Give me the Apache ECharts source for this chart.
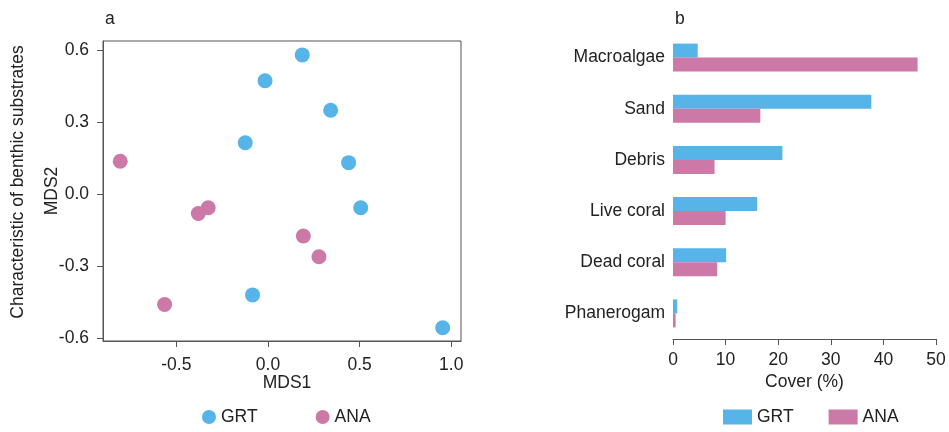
<!DOCTYPE html>
<html>
<head>
<meta charset="utf-8">
<script src="https://cdn.jsdelivr.net/npm/echarts@6/dist/echarts.min.js"></script>
<style>
html,body{margin:0;padding:0;background:#fff;}
#main{width:949px;height:432px;}
</style>
</head>
<body>
<div id="main"></div>
<script>
// panel a : MDS ordination
var grtMds = [
	[0.187, 0.582], [-0.016, 0.474], [0.342, 0.351], [-0.124, 0.215],
	[0.44, 0.132], [0.506, -0.056], [-0.084, -0.42], [0.953, -0.557]
];
var anaMds = [
	[-0.806, 0.138], [-0.38, -0.08], [-0.326, -0.056], [0.193, -0.174],
	[0.278, -0.261], [-0.564, -0.46]
];
var mds1Ticks = [-0.5, 0, 0.5, 1.0];
var mds2Ticks = [-0.6, -0.3, 0, 0.3, 0.6];

// panel b : cover (%)
var substrates = ['Macroalgae', 'Sand', 'Debris', 'Live coral', 'Dead coral', 'Phanerogam'];
var grtCover = [4.7, 37.7, 20.8, 16.0, 10.1, 0.8];
var anaCover = [46.5, 16.6, 7.9, 10.0, 8.4, 0.5];

var FONT = "'Liberation Sans Narrow', 'Arial Narrow', 'Liberation Sans', Arial, sans-serif";
var FS = 17.5;
var TXT = '#222';
var AX = '#555';
var BLUE = '#56b4e9';
var PINK = '#cc79a7';

var chart = echarts.init(document.getElementById('main'));

var option = {
	backgroundColor: '#fff',
	textStyle: {fontFamily: FONT, color: TXT},
	title: [
		{text: 'a', left: 100, top: 5, textStyle: {fontFamily: FONT, fontSize: FS, fontWeight: 'normal', color: TXT}},
		{text: 'b', left: 670, top: 5, textStyle: {fontFamily: FONT, fontSize: FS, fontWeight: 'normal', color: TXT}}
	],
	legend: [
		{
			data: ['GRT', 'ANA'],
			icon: 'circle',
			left: 202, top: 408, padding: 0,
			itemWidth: 14, itemHeight: 14,
			itemGap: 58,
			textStyle: {fontFamily: FONT, fontSize: FS, color: TXT}
		},
		{
			data: ['GRT', 'ANA'],
			icon: 'rect',
			left: 723, top: 408, padding: 0,
			itemWidth: 29, itemHeight: 15,
			itemGap: 35,
			textStyle: {fontFamily: FONT, fontSize: FS, color: TXT}
		}
	],
	grid: [
		{left: 103, top: 41, width: 358, height: 300, show: true, borderColor: AX, borderWidth: 1},
		{left: 673, top: 32, width: 263, height: 307}
	],
	xAxis: [
		{
			gridIndex: 0, type: 'value', min: -0.9, max: 1.053,
			name: 'MDS1', nameLocation: 'middle', nameGap: 33, nameMoveOverlap: false,
			nameTextStyle: {fontFamily: FONT, fontSize: FS, color: TXT, padding: [0, 0, 0, 10]},
			axisLine: {show: true, onZero: false, lineStyle: {color: AX}},
			axisTick: {show: true, length: 6, lineStyle: {color: AX}, customValues: mds1Ticks},
			axisLabel: {
				fontFamily: FONT, fontSize: FS, color: TXT, margin: 15,
				customValues: mds1Ticks,
				formatter: function (v) { return v.toFixed(1); }
			},
			splitLine: {show: false}
		},
		{
			gridIndex: 1, type: 'value', min: 0, max: 50, interval: 10,
			name: 'Cover (%)', nameLocation: 'middle', nameGap: 34, nameMoveOverlap: false,
			nameTextStyle: {fontFamily: FONT, fontSize: FS, color: TXT},
			axisLine: {show: true, onZero: false, lineStyle: {color: AX}},
			axisTick: {show: true, length: 6, lineStyle: {color: AX}},
			axisLabel: {fontFamily: FONT, fontSize: FS, color: TXT, margin: 12},
			splitLine: {show: false}
		}
	],
	yAxis: [
		{
			gridIndex: 0, type: 'value', min: -0.6125, max: 0.64,
			name: 'MDS2', nameLocation: 'middle', nameGap: 42, nameMoveOverlap: false,
			nameTextStyle: {fontFamily: FONT, fontSize: FS, color: TXT},
			axisLine: {show: true, onZero: false, lineStyle: {color: AX}},
			axisTick: {show: true, length: 6, lineStyle: {color: AX}, customValues: mds2Ticks},
			axisLabel: {
				fontFamily: FONT, fontSize: FS, color: TXT, margin: 14,
				customValues: mds2Ticks,
				formatter: function (v) { return v.toFixed(1); }
			},
			splitLine: {show: false}
		},
		{
			gridIndex: 1, type: 'category', data: substrates, inverse: true,
			axisLine: {show: false},
			axisTick: {show: false},
			axisLabel: {fontFamily: FONT, fontSize: FS, color: TXT, margin: 8},
			splitLine: {show: false}
		}
	],
	graphic: [
		{
			type: 'text', x: 18, y: 182, rotation: Math.PI / 2,
			style: {
				text: 'Characteristic of benthic substrates',
				fontFamily: FONT, fontSize: FS, fill: TXT,
				align: 'center', verticalAlign: 'middle'
			}
		}
	],
	series: [
		{
			name: 'GRT', type: 'scatter', xAxisIndex: 0, yAxisIndex: 0,
			data: grtMds, symbolSize: 15, itemStyle: {color: BLUE, opacity: 1}
		},
		{
			name: 'ANA', type: 'scatter', xAxisIndex: 0, yAxisIndex: 0,
			data: anaMds, symbolSize: 15, itemStyle: {color: PINK, opacity: 1}
		},
		{
			name: 'GRT', type: 'bar', xAxisIndex: 1, yAxisIndex: 1,
			data: grtCover, barWidth: 14, barGap: '0%', itemStyle: {color: BLUE}
		},
		{
			name: 'ANA', type: 'bar', xAxisIndex: 1, yAxisIndex: 1,
			data: anaCover, barWidth: 14, barGap: '0%', itemStyle: {color: PINK}
		}
	]
};

chart.setOption(option);
</script>
</body>
</html>
